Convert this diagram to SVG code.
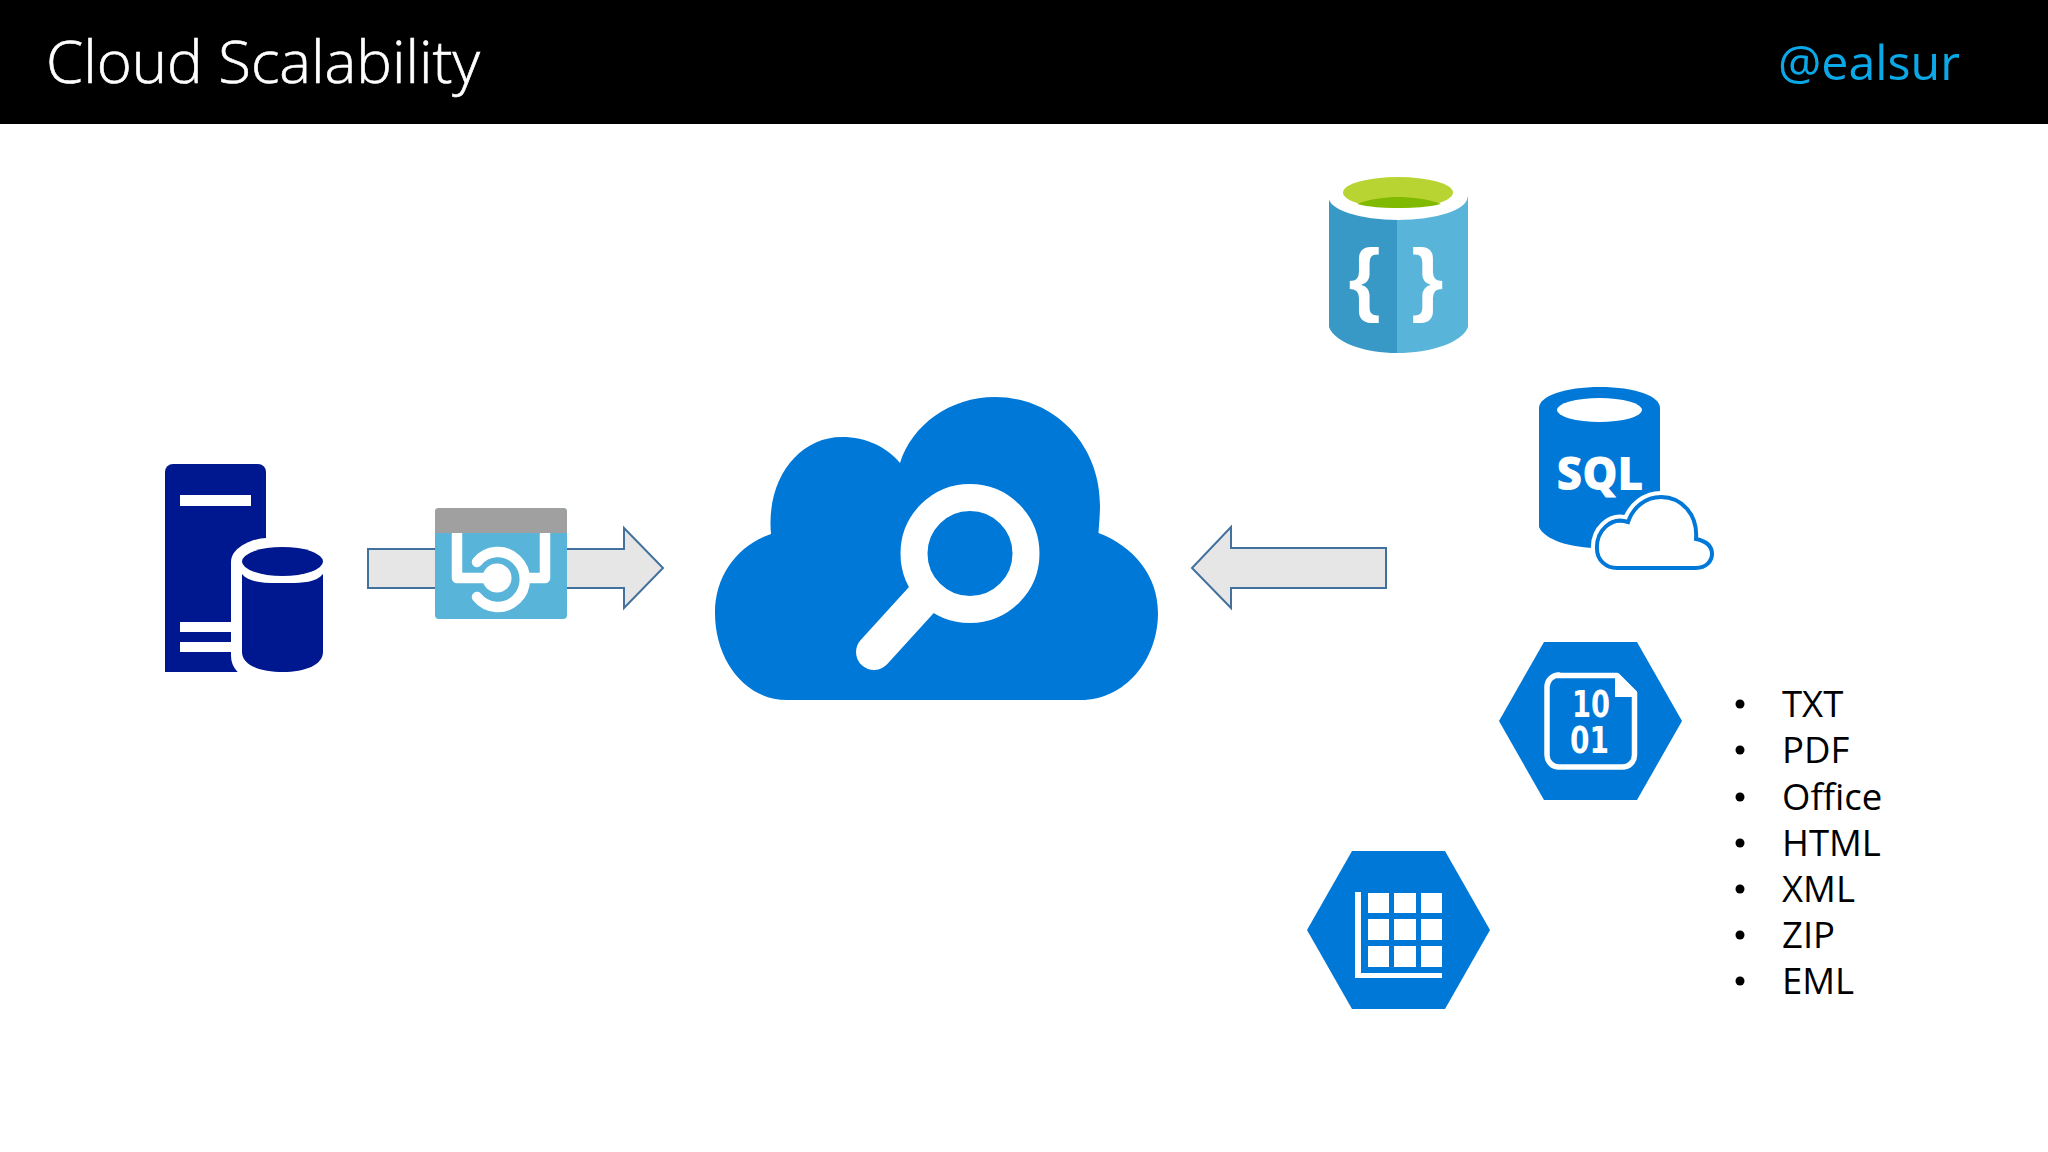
<svg xmlns="http://www.w3.org/2000/svg" width="2048" height="1152" viewBox="0 0 2048 1152">
<style>
.arrow{fill:#e6e6e6;stroke:#41719c;stroke-width:2;stroke-linejoin:miter}
.blue{fill:#0078d7}
.navy{fill:#00188f}
.w{fill:#fff}
.li{font-family:"Open Sans","Noto Sans",sans-serif;font-size:36.5px;fill:#000}
.brace{font-family:"Liberation Sans",Arial,sans-serif;font-weight:700;font-size:82px;fill:#fff}
</style>
<rect width="2048" height="1152" fill="#fff"/>
<g id="header">
<rect width="2048" height="124" fill="#000"/>
<text x="46" y="83" font-family="'Open Sans','Noto Sans',sans-serif" font-size="58" font-weight="300" fill="#fff" stroke="#fff" stroke-width="0.6" textLength="434" lengthAdjust="spacingAndGlyphs">Cloud Scalability</text>
<text x="1778" y="80" font-family="'Open Sans','Noto Sans',sans-serif" font-size="48" fill="#0ba8e8" textLength="182" lengthAdjust="spacingAndGlyphs">@ealsur</text>
</g>
<g id="connectors">
<path class="arrow" d="M368 549H624V528L663 568L624 608V588H368Z"/>
<path class="arrow" d="M1386 548H1231V527L1192 568L1231 608V588H1386Z"/>
</g>
<g id="server-db">
<path class="navy" d="M165 672V472a8 8 0 0 1 8-8H258a8 8 0 0 1 8 8V672Z"/>
<rect class="w" x="180" y="495" width="71" height="11"/>
<rect class="w" x="180" y="622" width="60" height="10"/>
<rect class="w" x="180" y="642" width="60" height="10"/>
<path class="w" d="M231 562C231 546 256 538 266 538H340V680H250C240 676 231 668 231 656Z"/>
<path class="navy" d="M242 574C250 584 270 583 283 583C296 583 315 584 323 574V652C323 665 305 672 283 672C260 672 242 665 242 652Z"/>
<ellipse class="navy" cx="282.5" cy="561.5" rx="40.5" ry="14.5"/>
</g>
<g id="app-box">
<rect x="435" y="508" width="132" height="111" rx="4" fill="#59b4d9"/>
<path d="M435 533V512a4 4 0 0 1 4-4H563a4 4 0 0 1 4 4V533Z" fill="#a0a0a0"/>
<path fill="none" stroke="#fff" stroke-width="10.500" stroke-linejoin="round" d="M457 533V578H497"/>
<path fill="none" stroke="#fff" stroke-width="10.500" stroke-linejoin="round" d="M545 533V578H526"/>
<circle cx="497" cy="578" r="14.500" fill="#fff"/>
<path fill="none" stroke="#59b4d9" stroke-width="6" d="M477 569.500A21 21 0 0 1 518 578A21 21 0 0 1 477 587" />
<path fill="none" stroke="#fff" stroke-width="10.500" stroke-linecap="round" d="M477 562A27 27.500 0 1 1 477 597"/>
</g>
<g id="search-cloud">
<path class="blue" d="M787 700C745 700 715 660 715 613C715 575 738 545 771 534C766 480 798 437 842 437C866 437 887 447 900 463C912 425 950 397 995 397C1055 397 1100 445 1100 505C1100 515 1099 525 1098.5 533C1133 546 1158 575 1158 613C1158 660 1125 700 1081 700Z"/>
<path fill="none" stroke="#fff" stroke-width="36" stroke-linecap="round" d="M874 652L925 596"/>
<circle cx="970" cy="553.5" r="56" fill="#0078d7" stroke="#fff" stroke-width="27"/>
</g>
<g id="cosmos">
<path d="M1329 197V327C1335 343 1365 353 1397 353V197Z" fill="#3999c6"/>
<path d="M1468 197V327C1462 343 1430 353 1397 353V197Z" fill="#59b4d9"/>
<ellipse class="w" cx="1398" cy="197" rx="69.5" ry="23"/>
<ellipse cx="1398" cy="192.500" rx="55" ry="15.500" fill="#b8d432"/>
<path d="M1357 204C1370 199 1385 197 1398 197C1412 197 1428 199 1441 204C1430 207 1412 208 1398 208C1384 208 1368 207 1357 204Z" fill="#7fba00"/>
<text class="brace" x="1364.500" y="306" text-anchor="middle">{</text>
<text class="brace" x="1427.500" y="306" text-anchor="middle">}</text>
</g>
<g id="sql">
<path class="blue" d="M1539 408C1539 396 1565 387 1600 387C1635 387 1660 396 1660 408V527C1655 540 1630 548 1600 548C1570 548 1545 540 1539 527Z"/>
<ellipse class="w" cx="1599.5" cy="410" rx="42.5" ry="12"/>
<text x="1600" y="490" text-anchor="middle" font-family="'Open Sans',sans-serif" font-weight="800" font-size="46" fill="#fff" textLength="87" lengthAdjust="spacingAndGlyphs">SQL</text>
<path fill="#fff" stroke="#fff" stroke-width="12" d="M1617 568H1696C1706 568 1712 561 1712 554C1712 546 1706 541 1696 539C1698 515 1682 497 1661 497C1646 497 1633 507 1628 522C1610 516 1596 532 1597 549C1597 560 1606 568 1617 568Z"/>
<path fill="#fff" stroke="#0078d7" stroke-width="4" d="M1617 568H1696C1706 568 1712 561 1712 554C1712 546 1706 541 1696 539C1698 515 1682 497 1661 497C1646 497 1633 507 1628 522C1610 516 1596 532 1597 549C1597 560 1606 568 1617 568Z"/>
</g>
<g id="blob">
<polygon class="blue" points="1544,642 1637,642 1682,721 1637,800 1544,800 1499,721"/>
<path fill="none" stroke="#fff" stroke-width="5.500" stroke-linejoin="round" d="M1557 675.500H1617L1634.500 693V755a12 12 0 0 1-12 12H1559a12 12 0 0 1-12-12V687a12 12 0 0 1 12-12Z"/>
<path fill="#fff" d="M1615 675H1620L1637 692V697H1615Z"/>
<text font-family="'DejaVu Sans',sans-serif" font-weight="700" font-size="37" fill="#fff"><tspan x="1572" y="717" textLength="38" lengthAdjust="spacingAndGlyphs">10</tspan><tspan x="1570" y="753" textLength="39" lengthAdjust="spacingAndGlyphs">01</tspan></text>
</g>
<g id="table">
<polygon class="blue" points="1352,851 1445,851 1490,930 1445,1009 1352,1009 1307,930"/>
<path class="w" d="M1355 892H1361V973H1442V978H1355Z"/>
<rect class="w" x="1368" y="893" width="21" height="20"/><rect class="w" x="1394" y="893" width="22" height="20"/><rect class="w" x="1421" y="893" width="21" height="20"/>
<rect class="w" x="1368" y="919" width="21" height="21"/><rect class="w" x="1394" y="919" width="22" height="21"/><rect class="w" x="1421" y="919" width="21" height="21"/>
<rect class="w" x="1368" y="946" width="21" height="21"/><rect class="w" x="1394" y="946" width="22" height="21"/><rect class="w" x="1421" y="946" width="21" height="21"/>
</g>
<g id="formats">
<circle cx="1740" cy="704" r="4.500"/><circle cx="1740" cy="750" r="4.500"/><circle cx="1740" cy="797" r="4.500"/><circle cx="1740" cy="843" r="4.500"/><circle cx="1740" cy="889" r="4.500"/><circle cx="1740" cy="935" r="4.500"/><circle cx="1740" cy="981" r="4.500"/>
<text class="li" x="1782" y="717">TXT</text>
<text class="li" x="1782" y="763">PDF</text>
<text class="li" x="1782" y="810">Office</text>
<text class="li" x="1782" y="856">HTML</text>
<text class="li" x="1782" y="902">XML</text>
<text class="li" x="1782" y="948">ZIP</text>
<text class="li" x="1782" y="994">EML</text>
</g>
</svg>
